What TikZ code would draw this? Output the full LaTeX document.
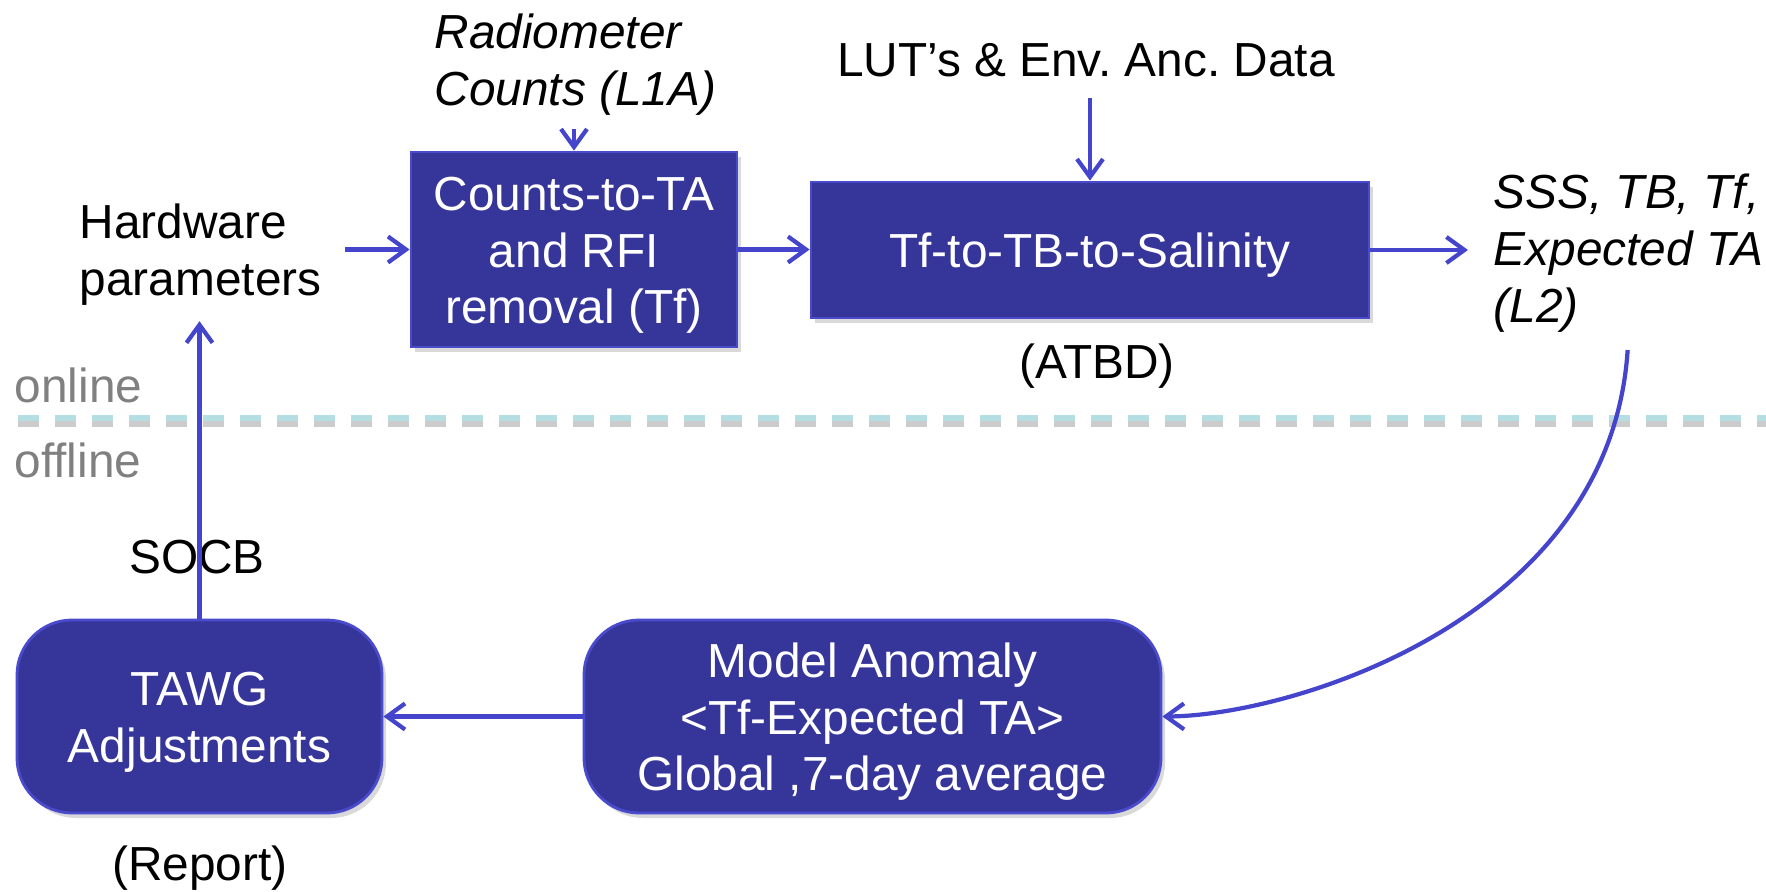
\documentclass[tikz,border=0pt]{standalone}
\usepackage{fontspec}
\setmainfont{Liberation Sans}
\usetikzlibrary{arrows.meta,shadows}

\definecolor{boxblue}{RGB}{54,53,154}
\definecolor{edgeblue}{RGB}{74,74,204}
\definecolor{flowblue}{RGB}{68,68,204}
\definecolor{splitcyan}{RGB}{180,222,226}
\definecolor{labelgray}{RGB}{128,128,128}

\newcommand{\labelfont}{\fontsize{13.6}{16.2}\selectfont\frenchspacing}
% first-line strut, pushes box text a little down
\newcommand{\boxstrut}{\rule{0pt}{0.45cm}}

\tikzset{
  procbox/.style={fill=boxblue, draw=edgeblue, line width=0.8pt, text=white, align=center, inner sep=0pt,
    drop shadow={shadow xshift=0.04cm, shadow yshift=-0.05cm, opacity=0.3}},
  roundbox/.style={procbox, rounded corners=0.55cm},
  plain/.style={inner sep=0pt, align=left},
  flow/.style={draw=flowblue, line width=1.2pt, -{Straight Barb[length=1.8mm,width=2.6mm]}},
  split/.style={line width=1.7pt, dash pattern=on 0.21cm off 0.16cm},
}

\begin{document}
\begin{tikzpicture}[font=\labelfont]
  \useasboundingbox (0,0) rectangle (17.66,8.91);

  % --- online / offline split ---
  \draw[split, gray!40] (0.18,4.67) -- (17.66,4.67);
  \draw[split, splitcyan] (0.18,4.73) -- (17.66,4.73);
  \node[plain, anchor=base west, text=labelgray] (online) at (0.14,4.89) {online};
  \node[plain, anchor=base west, text=labelgray] (offline) at (0.14,4.14) {offline};

  % --- online processing chain ---
  \node[procbox, minimum width=3.26cm, minimum height=1.95cm] (counts) at (5.74,6.415) {\boxstrut Counts-to-TA\\and RFI\\removal (Tf)};
  \node[procbox, minimum width=5.58cm, minimum height=1.36cm] (tf) at (10.90,6.41) {\boxstrut Tf-to-TB-to-Salinity};
  \node[plain, anchor=north west, font=\labelfont\itshape] (rad) at (4.34,8.777) {Radiometer\\Counts (L1A)};
  \node[plain, anchor=north west] (hw) at (0.79,6.877) {Hardware\\parameters};
  \node[plain, anchor=base] (lut) at (10.86,8.15) {LUT’s \& Env. Anc. Data};
  \node[plain, anchor=base] (atbd) at (10.97,5.13) {(ATBD)};
  \node[plain, anchor=north west, font=\labelfont\itshape] (out) at (14.93,7.177) {SSS, TB, Tf,\\Expected TA\\(L2)};

  % --- offline calibration loop ---
  \node[roundbox, minimum width=3.65cm, minimum height=1.93cm] (tawg) at (1.995,1.745) {\boxstrut TAWG\\Adjustments};
  \node[roundbox, minimum width=5.77cm, minimum height=1.93cm] (model) at (8.725,1.745) {\boxstrut Model Anomaly\\<Tf-Expected TA>\\Global ,7-day average};
  \node[plain, anchor=base] (socb) at (1.97,3.18) {SOCB};
  \node[plain, anchor=base] (report) at (2.0,0.11) {(Report)};

  % --- connectors ---
  \draw[flow, shorten <=0.13cm] (rad.south -| counts.north) -- (counts.north);
  \draw[flow, shorten <=0.23cm] (hw.east |- counts.west) -- (counts.west);
  \draw[flow] (counts.east) -- (counts.east -| tf.west);
  \draw[flow, shorten <=0.21cm] (lut.south -| tf.north) -- (tf.north);
  \draw[flow, shorten >=0.25cm] (tf.east) -- (tf.east -| out.west);
  \draw[flow, shorten <=0.17cm] (out.south) .. controls (16.10,2.71) and (12.90,1.75) .. (model.east);
  \draw[flow] (model.west) -- (tawg.east);
  \draw[flow, shorten >=0.15cm] (tawg.north) -- (tawg.north |- hw.south);
\end{tikzpicture}
\end{document}
